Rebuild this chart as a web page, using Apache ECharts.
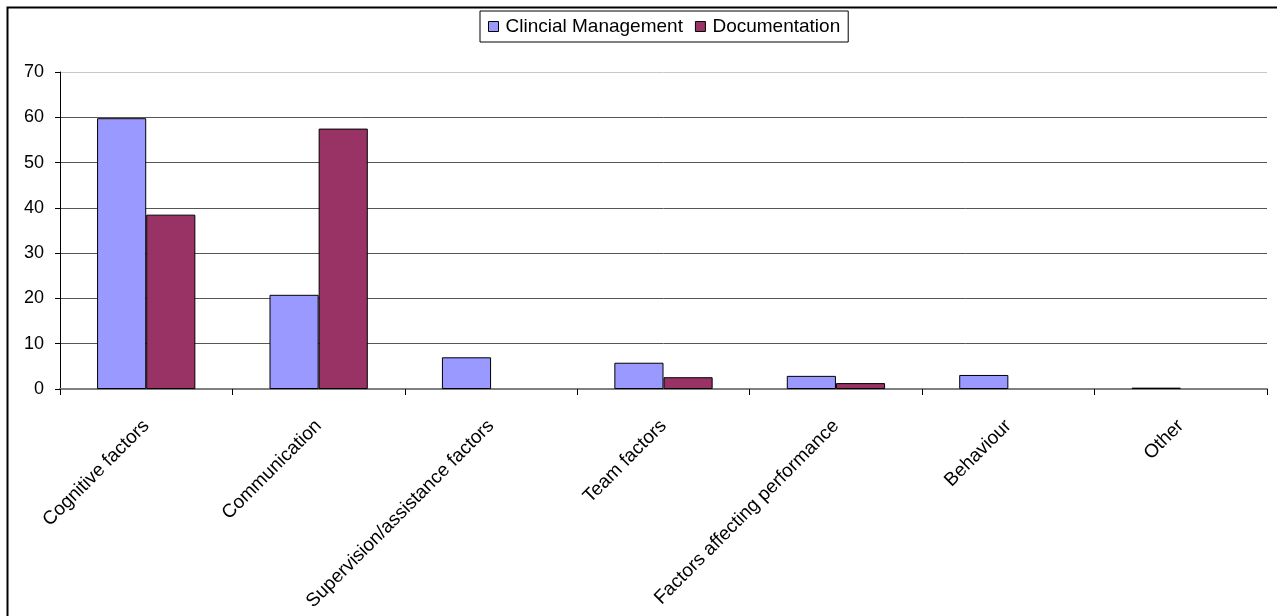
<!DOCTYPE html>
<html>
<head>
<meta charset="utf-8">
<script src="https://cdn.jsdelivr.net/npm/echarts@6/dist/echarts.min.js"></script>
<style>
  html, body { margin: 0; padding: 0; background: #fff; }
  #chart { width: 1277px; height: 616px; }
</style>
</head>
<body>
<div id="chart"></div>
<script>
const categories = ['Cognitive factors', 'Communication', 'Supervision/assistance factors', 'Team factors', 'Factors affecting performance', 'Behaviour', 'Other']
const clinicalValues = [59.8, 20.8, 7.0, 5.8, 2.9, 3.1, 0.3]
const documentationValues = [38.5, 57.5, null, 2.6, 1.3, null, null]
const seriesNames = ['Clincial Management', 'Documentation']
const yTicks = { min: 0, max: 70, interval: 10 }

const font = 'Arial, "Liberation Sans", sans-serif'
const chart = echarts.init(document.getElementById('chart'))

chart.setOption({
  animation: false,
  textStyle: { fontFamily: font, color: '#000' },
  graphic: [{
    // outer frame, only left/top edges fall inside the picture
    type: 'rect',
    shape: { x: 7.5, y: 7.5, width: 1300, height: 700 },
    style: { fill: 'none', stroke: '#000', lineWidth: 2 },
    silent: true
  }],
  legend: {
    left: 480,
    top: 11,
    padding: [6, 8, 6, 8],
    borderColor: '#000',
    borderWidth: 1,
    itemWidth: 10,
    itemHeight: 10,
    itemGap: 12,
    icon: 'rect',
    itemStyle: { borderColor: '#000', borderWidth: 1 },
    textStyle: { fontSize: 19, color: '#000', fontFamily: font, padding: [0, 0, 0, 2] },
    data: seriesNames
  },
  grid: {
    left: 60,
    right: 10,
    top: 72,
    bottom: 227,
    containLabel: false
  },
  xAxis: {
    type: 'category',
    data: categories,
    boundaryGap: true,
    axisLine: { show: true, lineStyle: { color: '#808080', width: 2 } },
    axisTick: { show: true, length: 6, lineStyle: { color: '#000', width: 1 } },
    axisLabel: {
      interval: 0,
      rotate: 45,
      margin: 34,
      fontSize: 19,
      color: '#000',
      fontFamily: font
    },
    splitLine: { show: false }
  },
  yAxis: {
    type: 'value',
    min: yTicks.min,
    max: yTicks.max,
    interval: yTicks.interval,
    axisLine: { show: true, lineStyle: { color: '#000', width: 1 } },
    axisTick: { show: true, length: 5, lineStyle: { color: '#000' } },
    axisLabel: { margin: 16, fontSize: 18, color: '#000', fontFamily: font },
    splitLine: {
      show: true,
      lineStyle: {
        color: ['#808080', '#555', '#555', '#555', '#555', '#555', '#555', '#c8c8c8'],
        width: 1
      }
    }
  },
  series: [
    {
      name: seriesNames[0],
      type: 'bar',
      barGap: '0%',
      barCategoryGap: '43%',
      itemStyle: { color: '#9999ff', borderColor: '#000', borderWidth: 1 },
      data: clinicalValues
    },
    {
      name: seriesNames[1],
      type: 'bar',
      barGap: '0%',
      barCategoryGap: '43%',
      itemStyle: { color: '#993366', borderColor: '#000', borderWidth: 1 },
      data: documentationValues
    }
  ]
})
</script>
</body>
</html>
